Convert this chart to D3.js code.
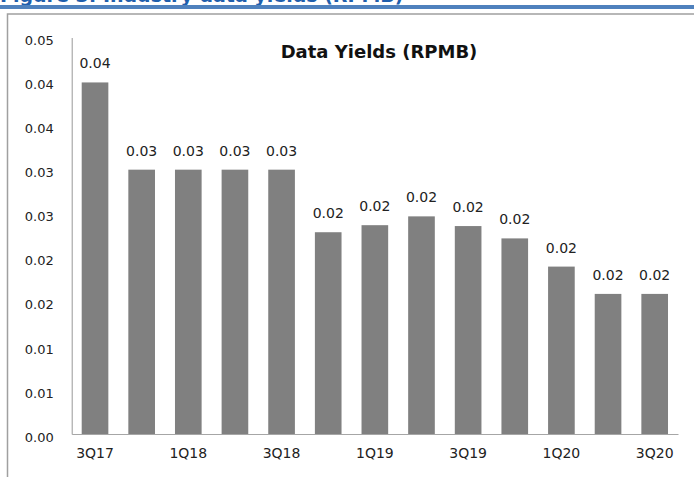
<!DOCTYPE html>
<html>
<head>
<meta charset="utf-8">
<script src="https://cdn.jsdelivr.net/npm/d3@7"></script>
<style>
  html, body { margin: 0; padding: 0; background: #fff; overflow: hidden; }
  svg { display: block; }
  text { font-family: "DejaVu Sans", Verdana, sans-serif; }
</style>
</head>
<body>
<svg id="chart" width="694" height="477"></svg>
<script>
// ---- data ----
const categories = ["3Q17","4Q17","1Q18","2Q18","3Q18","4Q18","1Q19","2Q19","3Q19","4Q19","1Q20","2Q20","3Q20"];
const yields = [0.0399, 0.0300, 0.0300, 0.0300, 0.0300, 0.0229, 0.0237, 0.0247, 0.0236, 0.0222, 0.0190, 0.0159, 0.0159];
const xTickLabels = ["3Q17","1Q18","3Q18","1Q19","3Q19","1Q20","3Q20"];
const yTickValues = [0, 0.005, 0.010, 0.015, 0.020, 0.025, 0.030, 0.035, 0.040, 0.045];
const yTickLabels = ["0.00","0.01","0.01","0.02","0.02","0.03","0.03","0.04","0.04","0.05"];
const chartTitle = "Data Yields (RPMB)";
const figureTitle = "Figure 3: Industry data yields (RPMB)";

(function () {
const svg = d3.select("#chart");

// clipped figure caption at the very top
svg.append("text")
  .attr("x", 0).attr("y", 2)
  .attr("font-size", 19).attr("font-weight", "bold")
  .attr("fill", "#1f5fad")
  .text(figureTitle);

// blue rule
svg.append("rect")
  .attr("x", 0).attr("y", 5).attr("width", 694).attr("height", 4)
  .attr("fill", "#4f81bd");

// chart frame
svg.append("rect")
  .attr("x", 7.5).attr("y", 14).attr("width", 720).attr("height", 500)
  .attr("fill", "none").attr("stroke", "#a0a0a0").attr("stroke-width", 1.5);

const mLeft = 71.7, mRight = 678, mTop = 37.5, mBottom = 434;

const x = d3.scaleBand()
  .domain(categories)
  .range([mLeft, mRight])
  .paddingInner(0.75 / 1.75)
  .paddingOuter(0.375 / 1.75);

const y = d3.scaleLinear()
  .domain([0, 0.045])
  .range([mBottom, mTop]);

// bars
svg.append("g").selectAll("rect")
  .data(categories)
  .join("rect")
  .attr("x", d => x(d))
  .attr("y", (d, i) => y(yields[i]))
  .attr("width", x.bandwidth())
  .attr("height", (d, i) => y(0) - y(yields[i]))
  .attr("fill", "#808080");

// data labels
svg.append("g").selectAll("text")
  .data(categories)
  .join("text")
  .attr("x", d => x(d) + x.bandwidth() / 2)
  .attr("y", (d, i) => y(yields[i]) - 14)
  .attr("text-anchor", "middle")
  .attr("font-size", 14)
  .attr("fill", "#222")
  .text((d, i) => (Math.round(yields[i] * 100) / 100).toFixed(2));

// y axis
const yAxis = d3.axisLeft(y)
  .tickValues(yTickValues)
  .tickFormat((d, i) => yTickLabels[i])
  .tickSize(0)
  .tickSizeOuter(0)
  .tickPadding(18);
const gy = svg.append("g").attr("transform", `translate(${mLeft},0)`).call(yAxis);
gy.select(".domain").attr("stroke", "#999").attr("stroke-width", 1);
gy.selectAll("text")
  .attr("font-size", 13)
  .attr("fill", "#222")
  .attr("font-family", "'DejaVu Sans', Verdana, sans-serif")
  .attr("dy", "0.55em");

// x axis
const xAxis = d3.axisBottom(x)
  .tickValues(xTickLabels)
  .tickSize(0)
  .tickSizeOuter(0)
  .tickPadding(14);
const gx = svg.append("g").attr("transform", `translate(0,${mBottom})`).call(xAxis);
gx.select(".domain").attr("stroke", "#a6a6a6").attr("stroke-width", 1);
gx.selectAll("text")
  .attr("font-size", 14)
  .attr("fill", "#222")
  .attr("font-family", "'DejaVu Sans', Verdana, sans-serif");

// chart title
svg.append("text")
  .attr("x", 379).attr("y", 58)
  .attr("text-anchor", "middle")
  .attr("font-size", 18).attr("font-weight", "bold")
  .attr("fill", "#111")
  .text(chartTitle);
})();
</script>
</body>
</html>
